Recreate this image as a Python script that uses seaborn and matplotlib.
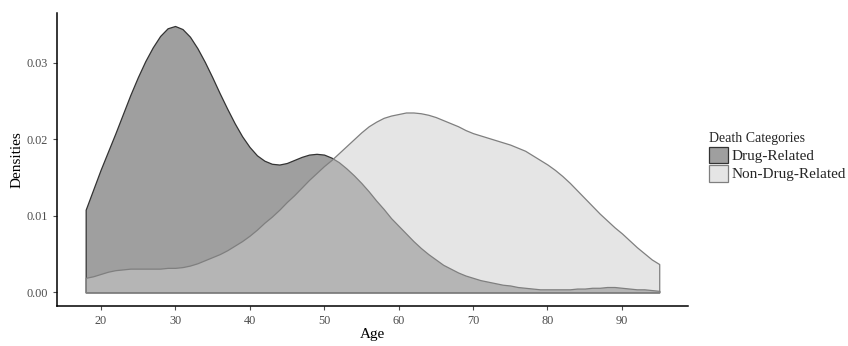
import matplotlib
matplotlib.use("Agg")
import matplotlib.pyplot as plt
import matplotlib.colors as mcolors
from matplotlib.patches import Patch
import pandas as pd
import seaborn as sns

# density curves, one value per year of age (18..95)
ages = list(range(18, 96))
drug_density = [0.0108, 0.0134, 0.0160, 0.0184, 0.0208, 0.0233, 0.0258, 0.0281, 0.0302,
                0.0320, 0.0335, 0.0345, 0.0348, 0.0344, 0.0334, 0.0319, 0.0301, 0.0281,
                0.0260, 0.0240, 0.0221, 0.0204, 0.0190, 0.0179, 0.0172, 0.0168, 0.0167,
                0.0169, 0.0173, 0.0177, 0.0180, 0.0181, 0.0180, 0.0176, 0.0170, 0.0162,
                0.0153, 0.0143, 0.0132, 0.0120, 0.0109, 0.0097, 0.0087, 0.0077, 0.0067,
                0.0058, 0.0050, 0.0043, 0.0036, 0.0031, 0.0026, 0.0022, 0.0019, 0.0016,
                0.0014, 0.0012, 0.0010, 0.0009, 0.0007, 0.0006, 0.0005, 0.0004, 0.0004,
                0.0004, 0.0004, 0.0004, 0.0005, 0.0005, 0.0006, 0.0006, 0.0007, 0.0007,
                0.0006, 0.0005, 0.0004, 0.0004, 0.0003, 0.0002]
nondrug_density = [0.0019, 0.0021, 0.0024, 0.0027, 0.0029, 0.0030, 0.0031, 0.0031, 0.0031,
                   0.0031, 0.0031, 0.0032, 0.0032, 0.0033, 0.0035, 0.0038, 0.0042, 0.0046,
                   0.0050, 0.0055, 0.0061, 0.0067, 0.0074, 0.0082, 0.0091, 0.0099, 0.0108,
                   0.0118, 0.0127, 0.0137, 0.0147, 0.0156, 0.0165, 0.0173, 0.0182, 0.0191,
                   0.0200, 0.0209, 0.0217, 0.0223, 0.0228, 0.0231, 0.0233, 0.0235, 0.0235,
                   0.0234, 0.0232, 0.0229, 0.0225, 0.0221, 0.0217, 0.0212, 0.0208, 0.0205,
                   0.0202, 0.0199, 0.0196, 0.0193, 0.0189, 0.0185, 0.0179, 0.0173, 0.0167,
                   0.0160, 0.0152, 0.0143, 0.0133, 0.0123, 0.0113, 0.0103, 0.0094, 0.0085,
                   0.0077, 0.0068, 0.0059, 0.0051, 0.0043, 0.0037]

categories = ["Drug-Related", "Non-Drug-Related"]
fill_colors = {"Drug-Related": "#404040", "Non-Drug-Related": "#cccccc"}
edge_colors = {"Drug-Related": "#333333", "Non-Drug-Related": "#7f7f7f"}
alpha = 0.5

df = pd.concat([
    pd.DataFrame({"Age": ages, "Density": drug_density, "Death Categories": categories[0]}),
    pd.DataFrame({"Age": ages, "Density": nondrug_density, "Death Categories": categories[1]}),
])

sns.set_theme(style="ticks")
plt.rcParams["font.family"] = ["Liberation Serif", "DejaVu Serif"]

fig = plt.figure(figsize=(8.48, 3.46), dpi=100)
ax = fig.add_axes([0.0672, 0.1165, 0.744, 0.846])

# drug-related first, non-drug-related drawn over it with transparency
for cat in categories:
    sub = df[df["Death Categories"] == cat]
    ax.fill_between(sub["Age"], 0, sub["Density"],
                    facecolor=mcolors.to_rgba(fill_colors[cat], alpha),
                    edgecolor=edge_colors[cat], linewidth=0.9)

ax.set_xlim(14.15, 98.85)
ax.set_ylim(-0.00174, 0.0365)
ax.set_xticks([20, 30, 40, 50, 60, 70, 80, 90])
ax.set_yticks([0.0, 0.01, 0.02, 0.03])
ax.set_yticklabels(["0.00", "0.01", "0.02", "0.03"])
ax.set_xlabel("Age", fontsize=11, color="black", labelpad=1)
ax.set_ylabel("Densities", fontsize=11, color="black", labelpad=2)
ax.tick_params(axis="both", labelsize=8.8, colors="#4d4d4d", length=3, width=0.8)
sns.despine(ax=ax)
for side in ["left", "bottom"]:
    ax.spines[side].set_linewidth(1.1)
    ax.spines[side].set_color("black")

handles = [Patch(facecolor=mcolors.to_rgba(fill_colors[c], alpha),
                 edgecolor=edge_colors[c], linewidth=0.9, label=c) for c in categories]
fig.legend(handles=handles, title="Death Categories", loc="upper left",
           bbox_to_anchor=(0.836, 0.618), frameon=False, fontsize=11,
           title_fontsize=10, handlelength=1.25, handleheight=1.3,
           handletextpad=0.25, labelspacing=0.1, alignment="left",
           borderaxespad=0, borderpad=0)

fig.savefig("out.png", dpi=100)
